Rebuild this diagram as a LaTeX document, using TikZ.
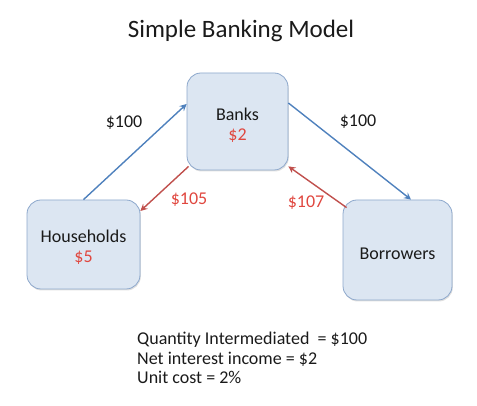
\documentclass[tikz,border=0pt]{standalone}
\usepackage{fontspec}
\setmainfont{Carlito}
\usetikzlibrary{arrows.meta,shadows}
\definecolor{boxfill}{HTML}{DCE6F2}
\definecolor{boxdraw}{HTML}{8DA8CC}
\definecolor{arrblue}{HTML}{4F81BD}
\definecolor{arrred}{HTML}{C0504D}
\definecolor{txtred}{HTML}{E0473F}
\definecolor{txtblack}{HTML}{1A1A1A}
\begin{document}
\begin{tikzpicture}[x=1pt,y=1pt,
  every node/.style={text=txtblack},
  box/.style={draw=boxdraw, line width=0.8pt, fill=boxfill, rounded corners=14pt,
    inner sep=0pt, align=center, font=\fontsize{18}{20}\selectfont,
    drop shadow={opacity=0.25, shadow xshift=0.8pt, shadow yshift=-1.5pt}},
  bluearr/.style={draw=arrblue, line width=1.4pt, -{Stealth[length=7pt,width=7pt,inset=2.5pt]}},
  redarr/.style={draw=arrred, line width=1.4pt, -{Stealth[length=7pt,width=7pt,inset=2.5pt]}},
  lbl/.style={font=\fontsize{18}{20}\selectfont, inner sep=0pt},
  rlbl/.style={lbl, text=txtred}]
\useasboundingbox (0,0) rectangle (477,406);
\node (title) at (241,375) {\fontsize{25}{28}\selectfont Simple Banking Model};
\node[box, minimum width=101pt, minimum height=97pt] (banks) at (237.5,284.5) {\rule{0pt}{21pt}Banks\\\textcolor{txtred}{\$2}};
\node[box, minimum width=113pt, minimum height=89pt] (hh) at (83.5,161.5) {\rule{0pt}{18pt}Households\\\textcolor{txtred}{\$5}};
\node[box, minimum width=109pt, minimum height=100pt] (bor) at (397.5,156) {\rule{0pt}{19pt}Borrowers};
\draw[bluearr] (hh.north) -- ([yshift=17.5pt]banks.west);
\draw[redarr] ([shift={(2pt,4pt)}]banks.south west) -- ([yshift=33.5pt]hh.east);
\draw[bluearr] ([yshift=18.5pt]banks.east) -- ([xshift=13.5pt]bor.north);
\draw[redarr] ([shift={(4pt,-8pt)}]bor.north west) -- ([shift={(0pt,4pt)}]banks.south east);
\node[lbl] (l1) at (124,283) {\$100};
\node[rlbl] (l2) at (189,206) {\$105};
\node[lbl] (l3) at (358,284) {\$100};
\node[rlbl] (l4) at (306,203) {\$107};
\node[lbl, anchor=west, align=left, font=\fontsize{18}{19.5}\selectfont] (info) at (137,48)
  {Quantity Intermediated\ \ = \$100\\Net interest income = \$2\\Unit cost = 2\%};
\end{tikzpicture}
\end{document}
